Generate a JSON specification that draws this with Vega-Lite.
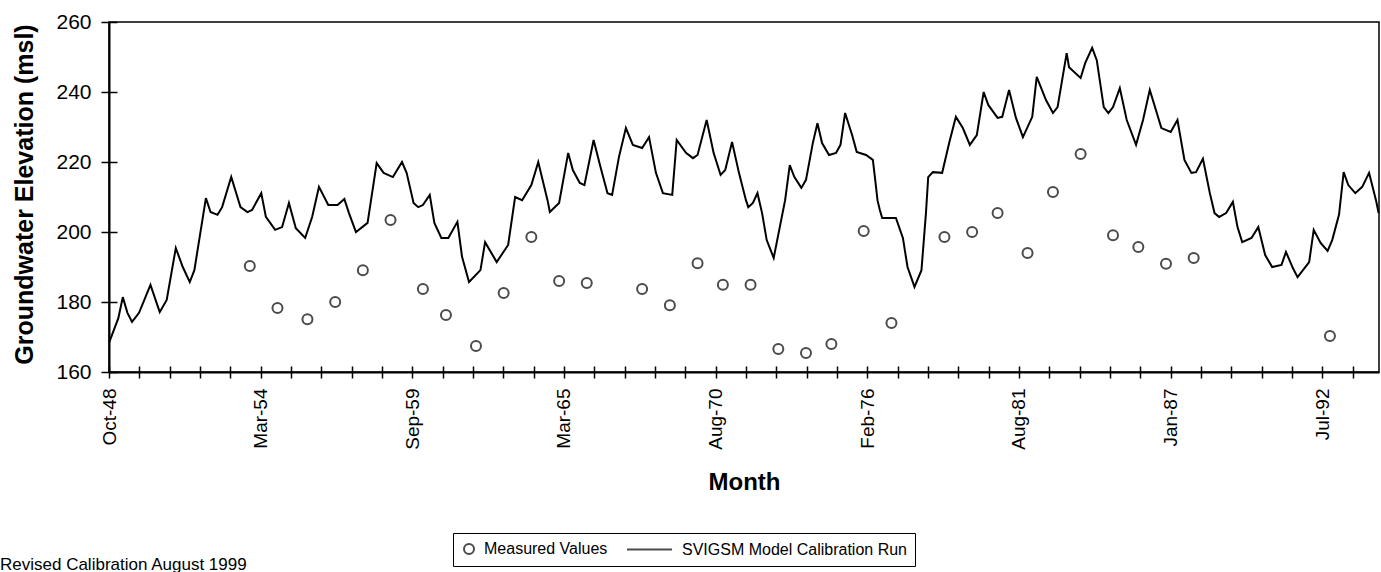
{
  "$schema": "https://vega.github.io/schema/vega-lite/v6.json",
  "autosize": {"type": "none"},
  "padding": {"left": 109, "top": 22, "right": 2, "bottom": 200},
  "width": 1270,
  "height": 350,
  "background": "white",
  "config": {
    "view": {"stroke": "black", "strokeWidth": 1.5},
    "font": "Liberation Sans"
  },
  "title": {
    "text": "Revised Calibration August 1999",
    "orient": "bottom",
    "anchor": "start",
    "frame": "group",
    "dx": -109,
    "dy": -10,
    "offset": 0,
    "fontSize": 17,
    "fontWeight": "normal",
    "font": "Liberation Sans",
    "color": "black"
  },
  "datasets": {
    "model": [
      {"date": "1948-10-01", "elev": 168.3}, {"date": "1949-02-01", "elev": 175.4}, {"date": "1949-04-01", "elev": 181.4},
      {"date": "1949-06-01", "elev": 176.9}, {"date": "1949-08-01", "elev": 174.3}, {"date": "1949-11-01", "elev": 176.9},
      {"date": "1950-04-01", "elev": 184.9}, {"date": "1950-08-01", "elev": 177.1}, {"date": "1950-11-01", "elev": 180.6},
      {"date": "1951-03-01", "elev": 195.4}, {"date": "1951-06-01", "elev": 190.0}, {"date": "1951-09-01", "elev": 185.7},
      {"date": "1951-11-01", "elev": 189.1}, {"date": "1952-04-01", "elev": 209.7}, {"date": "1952-06-01", "elev": 205.7},
      {"date": "1952-09-01", "elev": 204.9}, {"date": "1952-11-01", "elev": 207.1}, {"date": "1953-03-01", "elev": 215.7},
      {"date": "1953-07-01", "elev": 207.1}, {"date": "1953-10-01", "elev": 205.7}, {"date": "1953-12-01", "elev": 206.3},
      {"date": "1954-04-01", "elev": 211.1}, {"date": "1954-06-01", "elev": 204.3}, {"date": "1954-10-01", "elev": 200.6},
      {"date": "1955-01-01", "elev": 201.4}, {"date": "1955-04-01", "elev": 208.3}, {"date": "1955-07-01", "elev": 201.1},
      {"date": "1955-11-01", "elev": 198.3}, {"date": "1956-02-01", "elev": 204.3}, {"date": "1956-05-01", "elev": 212.9},
      {"date": "1956-09-01", "elev": 207.7}, {"date": "1957-01-01", "elev": 207.7}, {"date": "1957-04-01", "elev": 209.4},
      {"date": "1957-06-01", "elev": 205.4}, {"date": "1957-09-01", "elev": 200.0}, {"date": "1958-02-01", "elev": 202.6},
      {"date": "1958-06-01", "elev": 219.7}, {"date": "1958-09-01", "elev": 216.9}, {"date": "1959-01-01", "elev": 215.7},
      {"date": "1959-05-01", "elev": 220.0}, {"date": "1959-07-01", "elev": 216.9}, {"date": "1959-10-01", "elev": 208.3},
      {"date": "1959-12-01", "elev": 207.1}, {"date": "1960-02-01", "elev": 207.7}, {"date": "1960-05-01", "elev": 210.6},
      {"date": "1960-07-01", "elev": 202.6}, {"date": "1960-10-01", "elev": 198.3}, {"date": "1961-01-01", "elev": 198.3},
      {"date": "1961-05-01", "elev": 202.9}, {"date": "1961-07-01", "elev": 192.9}, {"date": "1961-10-01", "elev": 185.7},
      {"date": "1962-03-01", "elev": 189.1}, {"date": "1962-05-01", "elev": 197.1}, {"date": "1962-10-01", "elev": 191.4},
      {"date": "1963-03-01", "elev": 196.3}, {"date": "1963-06-01", "elev": 210.0}, {"date": "1963-09-01", "elev": 209.1},
      {"date": "1964-01-01", "elev": 213.4}, {"date": "1964-04-01", "elev": 220.0}, {"date": "1964-08-01", "elev": 209.1},
      {"date": "1964-09-01", "elev": 205.7}, {"date": "1965-01-01", "elev": 208.3}, {"date": "1965-05-01", "elev": 222.6},
      {"date": "1965-07-01", "elev": 217.7}, {"date": "1965-10-01", "elev": 214.0}, {"date": "1965-12-01", "elev": 213.4},
      {"date": "1966-04-01", "elev": 226.3}, {"date": "1966-07-01", "elev": 218.6}, {"date": "1966-10-01", "elev": 211.1},
      {"date": "1966-12-01", "elev": 210.6}, {"date": "1967-03-01", "elev": 221.4}, {"date": "1967-06-01", "elev": 229.7},
      {"date": "1967-09-01", "elev": 224.9}, {"date": "1968-01-01", "elev": 224.0}, {"date": "1968-04-01", "elev": 227.1},
      {"date": "1968-07-01", "elev": 216.9}, {"date": "1968-10-01", "elev": 211.1}, {"date": "1969-02-01", "elev": 210.6},
      {"date": "1969-04-01", "elev": 226.3}, {"date": "1969-08-01", "elev": 222.6}, {"date": "1969-11-01", "elev": 221.1},
      {"date": "1970-01-01", "elev": 222.0}, {"date": "1970-05-01", "elev": 232.0}, {"date": "1970-08-01", "elev": 222.6},
      {"date": "1970-11-01", "elev": 216.3}, {"date": "1971-01-01", "elev": 217.7}, {"date": "1971-04-01", "elev": 225.7},
      {"date": "1971-07-01", "elev": 216.9}, {"date": "1971-10-01", "elev": 209.1}, {"date": "1971-11-01", "elev": 207.1},
      {"date": "1972-01-01", "elev": 208.3}, {"date": "1972-03-01", "elev": 211.1}, {"date": "1972-05-01", "elev": 205.4},
      {"date": "1972-07-01", "elev": 197.7}, {"date": "1972-10-01", "elev": 192.6}, {"date": "1973-03-01", "elev": 209.1},
      {"date": "1973-05-01", "elev": 219.1}, {"date": "1973-07-01", "elev": 215.7}, {"date": "1973-10-01", "elev": 212.6},
      {"date": "1973-12-01", "elev": 214.9}, {"date": "1974-03-01", "elev": 225.4}, {"date": "1974-05-01", "elev": 231.1},
      {"date": "1974-07-01", "elev": 225.4}, {"date": "1974-10-01", "elev": 222.0}, {"date": "1975-01-01", "elev": 222.6},
      {"date": "1975-03-01", "elev": 224.9}, {"date": "1975-05-01", "elev": 234.0}, {"date": "1975-08-01", "elev": 227.7},
      {"date": "1975-10-01", "elev": 222.9}, {"date": "1976-02-01", "elev": 222.0}, {"date": "1976-05-01", "elev": 220.6},
      {"date": "1976-06-01", "elev": 214.9}, {"date": "1976-07-01", "elev": 209.1}, {"date": "1976-08-01", "elev": 206.3},
      {"date": "1976-09-01", "elev": 204.0}, {"date": "1977-03-01", "elev": 204.0}, {"date": "1977-06-01", "elev": 198.3},
      {"date": "1977-08-01", "elev": 190.0}, {"date": "1977-11-01", "elev": 184.3}, {"date": "1978-02-01", "elev": 189.1},
      {"date": "1978-04-01", "elev": 205.4}, {"date": "1978-05-01", "elev": 215.7}, {"date": "1978-07-01", "elev": 217.1},
      {"date": "1978-11-01", "elev": 216.9}, {"date": "1979-02-01", "elev": 225.4}, {"date": "1979-05-01", "elev": 232.9},
      {"date": "1979-08-01", "elev": 229.7}, {"date": "1979-11-01", "elev": 224.9}, {"date": "1980-02-01", "elev": 227.7},
      {"date": "1980-05-01", "elev": 240.0}, {"date": "1980-07-01", "elev": 236.3}, {"date": "1980-11-01", "elev": 232.6},
      {"date": "1981-01-01", "elev": 232.9}, {"date": "1981-04-01", "elev": 240.6}, {"date": "1981-07-01", "elev": 232.6},
      {"date": "1981-10-01", "elev": 227.1}, {"date": "1982-02-01", "elev": 232.9}, {"date": "1982-04-01", "elev": 244.3},
      {"date": "1982-08-01", "elev": 237.7}, {"date": "1982-11-01", "elev": 234.0}, {"date": "1983-01-01", "elev": 235.7},
      {"date": "1983-05-01", "elev": 251.1}, {"date": "1983-06-01", "elev": 247.1}, {"date": "1983-11-01", "elev": 244.0},
      {"date": "1984-01-01", "elev": 248.3}, {"date": "1984-04-01", "elev": 252.6}, {"date": "1984-06-01", "elev": 249.1},
      {"date": "1984-09-01", "elev": 235.7}, {"date": "1984-11-01", "elev": 234.0}, {"date": "1985-01-01", "elev": 235.7},
      {"date": "1985-04-01", "elev": 241.1}, {"date": "1985-07-01", "elev": 232.0}, {"date": "1985-11-01", "elev": 224.9},
      {"date": "1986-02-01", "elev": 232.0}, {"date": "1986-05-01", "elev": 240.6}, {"date": "1986-10-01", "elev": 229.7},
      {"date": "1987-02-01", "elev": 228.6}, {"date": "1987-05-01", "elev": 232.0}, {"date": "1987-08-01", "elev": 220.6},
      {"date": "1987-11-01", "elev": 216.9}, {"date": "1988-01-01", "elev": 217.1}, {"date": "1988-04-01", "elev": 220.9},
      {"date": "1988-07-01", "elev": 211.1}, {"date": "1988-09-01", "elev": 205.4}, {"date": "1988-11-01", "elev": 204.3},
      {"date": "1989-02-01", "elev": 205.4}, {"date": "1989-05-01", "elev": 208.6}, {"date": "1989-07-01", "elev": 201.4},
      {"date": "1989-09-01", "elev": 197.1}, {"date": "1990-01-01", "elev": 198.3}, {"date": "1990-04-01", "elev": 201.4},
      {"date": "1990-07-01", "elev": 193.4}, {"date": "1990-10-01", "elev": 190.0}, {"date": "1991-02-01", "elev": 190.6},
      {"date": "1991-04-01", "elev": 194.3}, {"date": "1991-07-01", "elev": 189.7}, {"date": "1991-09-01", "elev": 187.1},
      {"date": "1992-02-01", "elev": 191.4}, {"date": "1992-04-01", "elev": 200.6}, {"date": "1992-07-01", "elev": 196.9},
      {"date": "1992-10-01", "elev": 194.6}, {"date": "1992-12-01", "elev": 197.7}, {"date": "1993-03-01", "elev": 205.0},
      {"date": "1993-05-01", "elev": 217.1}, {"date": "1993-07-01", "elev": 213.4}, {"date": "1993-10-01", "elev": 211.1},
      {"date": "1994-01-01", "elev": 212.9}, {"date": "1994-04-01", "elev": 216.9}, {"date": "1994-07-01", "elev": 209.1},
      {"date": "1994-08-05", "elev": 205.4}
    ],
    "measured": [
      {"date": "1953-11-01", "elev": 190.3}, {"date": "1954-11-01", "elev": 178.3}, {"date": "1955-12-01", "elev": 175.1},
      {"date": "1956-12-01", "elev": 180.0}, {"date": "1957-12-01", "elev": 189.1}, {"date": "1958-12-01", "elev": 203.4},
      {"date": "1960-02-01", "elev": 183.7}, {"date": "1960-12-01", "elev": 176.3}, {"date": "1962-01-01", "elev": 167.4},
      {"date": "1963-01-01", "elev": 182.6}, {"date": "1964-01-01", "elev": 198.6}, {"date": "1965-01-01", "elev": 186.0},
      {"date": "1966-01-01", "elev": 185.4}, {"date": "1968-01-01", "elev": 183.7}, {"date": "1969-01-01", "elev": 179.1},
      {"date": "1970-01-01", "elev": 191.1}, {"date": "1970-12-01", "elev": 184.9}, {"date": "1971-12-01", "elev": 184.9},
      {"date": "1972-12-01", "elev": 166.6}, {"date": "1973-12-01", "elev": 165.4}, {"date": "1974-11-01", "elev": 168.0},
      {"date": "1976-01-01", "elev": 200.3}, {"date": "1977-01-01", "elev": 174.0}, {"date": "1978-12-01", "elev": 198.6},
      {"date": "1979-12-01", "elev": 200.0}, {"date": "1980-11-01", "elev": 205.4}, {"date": "1981-12-01", "elev": 194.0},
      {"date": "1982-11-01", "elev": 211.4}, {"date": "1983-11-01", "elev": 222.3}, {"date": "1985-01-01", "elev": 199.1},
      {"date": "1985-12-01", "elev": 195.7}, {"date": "1986-12-01", "elev": 190.9}, {"date": "1987-12-01", "elev": 192.6},
      {"date": "1992-11-01", "elev": 170.3}
    ]
  },
  "resolve": {"axis": {"x": "independent", "y": "independent"}},
  "layer": [
    {
      "data": {"name": "model"},
      "mark": {"type": "line", "color": "black", "strokeWidth": 2, "interpolate": "linear"},
      "encoding": {
        "x": {
          "field": "date", "type": "temporal",
          "scale": {"type": "utc", "domain": [-670636800000, 776476800000], "nice": false},
          "axis": {
            "orient": "bottom",
            "values": [-670636800000, -636076800000, -601516800000, -566956800000, -532396800000, -497836800000, -463276800000, -428716800000, -394156800000, -359596800000, -325036800000, -290476800000, -255916800000, -221356800000, -186796800000, -152236800000, -117676800000, -83116800000, -48556800000, -13996800000, 20563200000, 55123200000, 89683200000, 124243200000, 158803200000, 193363200000, 227923200000, 262483200000, 297043200000, 331603200000, 366163200000, 400723200000, 435283200000, 469843200000, 504403200000, 538963200000, 573523200000, 608083200000, 642643200000, 677203200000, 711763200000, 746323200000],
            "labelExpr": "(round((time(datum.value) + 670636800000) / 34560000000) % 5 == 0) ? utcFormat(datum.value, '%b-%y') : ''",
            "labelAngle": -90,
            "labelAlign": "right",
            "labelBaseline": "middle",
            "labelFont": "Liberation Sans",
            "labelFontSize": 19,
            "labelColor": "black",
            "labelPadding": 10,
            "labelOverlap": false,
            "labelFlush": false,
            "labelBound": false,
            "tickSize": 6,
            "tickColor": "black",
            "tickWidth": 1.5,
            "domainColor": "black",
            "domainWidth": 2,
            "grid": false,
            "title": "Month",
            "titleFont": "Liberation Sans",
            "titleFontSize": 24,
            "titleFontWeight": "bold",
            "titleColor": "black",
            "titleY": 110,
            "titleBaseline": "middle"
          }
        },
        "y": {
          "field": "elev", "type": "quantitative",
          "scale": {"domain": [160, 260], "nice": false, "zero": false},
          "axis": {
            "orient": "left",
            "values": [160, 180, 200, 220, 240, 260],
            "labelFont": "Liberation Sans",
            "labelFontSize": 21,
            "labelColor": "black",
            "labelPadding": 10,
            "tickSize": 8,
            "tickColor": "black",
            "tickWidth": 1.5,
            "domainColor": "black",
            "domainWidth": 2,
            "grid": false,
            "title": "Groundwater Elevation (msl)",
            "titleFont": "Liberation Sans",
            "titleFontSize": 25,
            "titleFontWeight": "bold",
            "titleColor": "black",
            "titleX": -85,
            "titleY": 172,
            "titleAlign": "center",
            "titleBaseline": "middle"
          }
        }
      }
    },
    {
      "data": {"name": "measured"},
      "mark": {"type": "point", "shape": "circle", "filled": false, "color": "black", "strokeWidth": 2, "size": 100},
      "encoding": {
        "x": {
          "field": "date", "type": "temporal",
          "axis": {
            "orient": "bottom",
            "values": [-670636800000, -636076800000, -601516800000, -566956800000, -532396800000, -497836800000, -463276800000, -428716800000, -394156800000, -359596800000, -325036800000, -290476800000, -255916800000, -221356800000, -186796800000, -152236800000, -117676800000, -83116800000, -48556800000, -13996800000, 20563200000, 55123200000, 89683200000, 124243200000, 158803200000, 193363200000, 227923200000, 262483200000, 297043200000, 331603200000, 366163200000, 400723200000, 435283200000, 469843200000, 504403200000, 538963200000, 573523200000, 608083200000, 642643200000, 677203200000, 711763200000, 746323200000],
            "labels": false,
            "domain": false,
            "grid": false,
            "tickSize": -6,
            "tickColor": "black",
            "tickWidth": 1.5,
            "title": null
          }
        },
        "y": {
          "field": "elev", "type": "quantitative",
          "axis": {
            "orient": "left",
            "values": [160, 180, 200, 220, 240, 260],
            "labels": false,
            "domain": false,
            "grid": false,
            "tickSize": -8,
            "tickColor": "black",
            "tickWidth": 1.5,
            "title": null
          }
        },
        "shape": {
          "datum": "Measured Values",
          "scale": {"domain": ["Measured Values", "SVIGSM Model Calibration Run"], "range": ["circle", "M-8,0L1,0"]},
          "legend": {
            "title": null,
            "orient": "none",
            "direction": "horizontal",
            "legendX": 344,
            "legendY": 511,
            "padding": 8,
            "strokeColor": "black",
            "fillColor": "white",
            "symbolSize": 100,
            "symbolStrokeWidth": 2,
            "symbolStrokeColor": "black",
            "symbolFillColor": "transparent",
            "labelFont": "Liberation Sans",
            "labelFontSize": 16,
            "labelColor": "black",
            "labelOffset": 7,
            "labelLimit": 0,
            "columnPadding": 15
          }
        }
      }
    }
  ]
}
